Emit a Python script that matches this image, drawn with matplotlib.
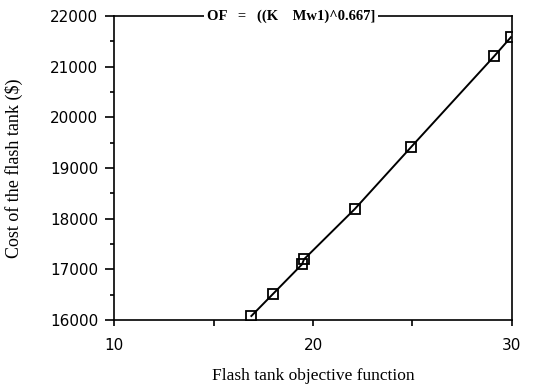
import matplotlib.pyplot as plt
from matplotlib.ticker import MultipleLocator

# values
objective = [16.9, 18.0, 19.45, 19.55, 22.1, 24.95, 29.1, 29.95]
cost = [16080, 16520, 17100, 17200, 18190, 19420, 21200, 21580]

x_ticks = [10, 20, 30]
y_ticks = [16000, 17000, 18000, 19000, 20000, 21000, 22000]

fig = plt.figure(figsize=(5.54, 3.87), dpi=100)
ax = fig.add_axes([0.206, 0.173, 0.718, 0.786])

ax.plot(objective, cost, color="black", lw=1.4, marker="s", ms=7,
        mfc="none", mec="black", mew=1.3)

ax.set_xlim(10, 30)
ax.set_ylim(16000, 22000)
ax.set_xticks(x_ticks)
ax.set_yticks(y_ticks)
ax.xaxis.set_minor_locator(MultipleLocator(5))
ax.yaxis.set_minor_locator(MultipleLocator(500))
ax.tick_params(axis="y", which="major", direction="out", length=6.5, width=1.2, pad=5)
ax.tick_params(axis="y", which="minor", direction="out", length=3, width=1.2)
ax.tick_params(axis="x", which="both", direction="out", length=4, width=1.2, pad=9)
for lab in ax.get_xticklabels() + ax.get_yticklabels():
    lab.set_family("DejaVu Sans")
    lab.set_fontsize(11)

for s in ax.spines.values():
    s.set_linewidth(1.2)

ax.text(0.445, 1.0, "OF   =   ((K    Mw1)^0.667]", transform=ax.transAxes,
        ha="center", va="center", family="Liberation Serif", fontweight="bold",
        fontsize=10.5, bbox=dict(facecolor="white", edgecolor="none", pad=2))

ax.set_xlabel("Flash tank objective function", family="Liberation Serif",
              fontsize=12.5)
ax.set_ylabel("Cost of the flash tank ($)", family="Liberation Serif",
              fontsize=13)
ax.xaxis.set_label_coords(0.5, -0.158)
ax.yaxis.set_label_coords(-0.228, 0.5)

fig.savefig("out.png", dpi=100)
